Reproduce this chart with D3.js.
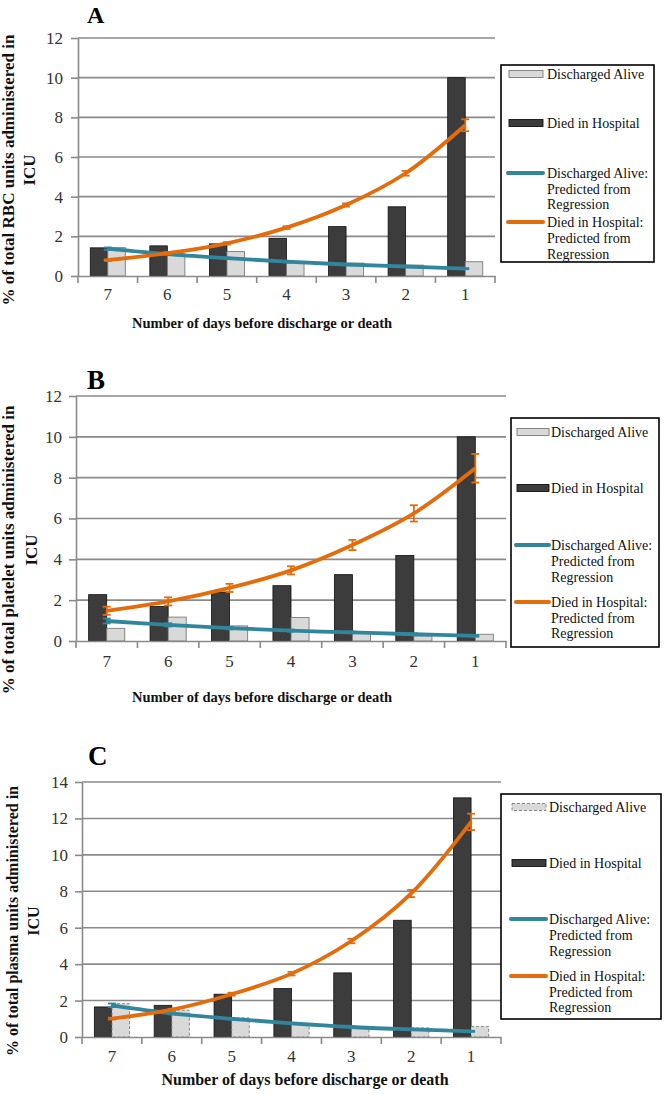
<!DOCTYPE html>
<html>
<head>
<meta charset="utf-8">
<script src="https://cdn.jsdelivr.net/npm/d3@7"></script>
<style>
  html, body { margin: 0; padding: 0; background: #fff; }
  svg { display: block; }
  text { font-family: "Liberation Serif", "Times New Roman", serif; }
</style>
</head>
<body>
<svg id="chart" width="666" height="1094"></svg>
<script>
// ---------- DATA ----------
const days = ["7", "6", "5", "4", "3", "2", "1"];
const panelLetters = ["A", "B", "C"];
const yTitleLines = [
  ["% of total RBC units administered in", "ICU"],
  ["% of total platelet units administered in", "ICU"],
  ["% of total plasma units administered in", "ICU"]
];
const xTitle = "Number of days before discharge or death";
const legendLabels = [
  ["Discharged Alive"],
  ["Died in Hospital"],
  ["Discharged Alive:", "Predicted from", "Regression"],
  ["Died in Hospital:", "Predicted from", "Regression"]
];
const yTicksAB = [0, 2, 4, 6, 8, 10, 12];
const yTicksC = [0, 2, 4, 6, 8, 10, 12, 14];

// Panel A (RBC)
const aDied = [1.42, 1.52, 1.62, 1.9, 2.49, 3.49, 10.0];
const aAlive = [1.43, 1.12, 1.23, 0.65, 0.65, 0.55, 0.72];
const aAlivePred = [1.38, 1.1, 0.9, 0.72, 0.58, 0.48, 0.37];
const aAlivePredErr = [0.06, 0.04, 0.03, 0.03, 0.03, 0.03, 0.03];
const aDiedPred = [0.8, 1.15, 1.65, 2.44, 3.58, 5.18, 7.6];
const aDiedPredErr = [0.04, 0.05, 0.06, 0.07, 0.08, 0.12, 0.3];

// Panel B (platelet)
const bDied = [2.27, 1.69, 2.4, 2.71, 3.25, 4.19, 10.0];
const bAlive = [0.62, 1.17, 0.74, 1.15, 0.42, 0.25, 0.33];
const bAlivePred = [0.98, 0.79, 0.63, 0.51, 0.42, 0.33, 0.25];
const bAlivePredErr = [0.12, 0.08, 0.06, 0.05, 0.04, 0.04, 0.04];
const bDiedPred = [1.48, 1.94, 2.6, 3.46, 4.7, 6.25, 8.46];
const bDiedPredErr = [0.2, 0.2, 0.2, 0.2, 0.25, 0.4, 0.7];

// Panel C (plasma)
const cDied = [1.65, 1.74, 2.35, 2.66, 3.52, 6.41, 13.13];
const cAlive = [1.83, 1.47, 1.05, 0.7, 0.55, 0.5, 0.58];
const cAlivePred = [1.74, 1.3, 1.0, 0.75, 0.55, 0.42, 0.31];
const cAlivePredErr = [0.1, 0.06, 0.04, 0.03, 0.03, 0.03, 0.03];
const cDiedPred = [1.01, 1.5, 2.35, 3.48, 5.27, 7.88, 11.81];
const cDiedPredErr = [0.05, 0.05, 0.08, 0.1, 0.12, 0.2, 0.45];

// ---------- STYLE / LAYOUT ----------
const COL_DIED = "#3c3c3c";
const COL_ALIVE = "#d9d9d9";
const COL_BLUE = "#31859c";
const COL_ORANGE = "#e46c0a";
const COL_GRID = "#8a8a8a";
const SERIF = "'Liberation Serif', 'Times New Roman', serif";

const layouts = [
  { x0: 78, x1: 495, y0: 276, yTop: 38, yMax: 12, yTicks: yTicksAB, tickPad: 8, xLabPad: 12,
    letterX: 87, letterY: 23, letterSize: 24,
    xTitleX: 262, xTitleY: 328, xTitleSize: 14.5,
    yTitleCY: 170, yTitleX1: 14, yTitleX2: 35, yTitleSize: 17,
    legend: { x: 501, y: 65, w: 153, h: 197, swX: 509, swW: 34, txX: 547,
              rows: [[74], [123], [173, 189, 204], [222, 238, 254]] }, dashedAlive: false },
  { x0: 76, x1: 506, y0: 641, yTop: 396, yMax: 12, yTicks: yTicksAB, tickPad: 7, xLabPad: 14,
    letterX: 87, letterY: 389, letterSize: 27,
    xTitleX: 262, xTitleY: 702, xTitleSize: 14.5,
    yTitleCY: 550, yTitleX1: 14, yTitleX2: 37, yTitleSize: 17,
    legend: { x: 511, y: 418, w: 148, h: 229, swX: 517, swW: 32, txX: 551,
              rows: [[432], [488], [545, 561, 577], [602, 618, 633]] }, dashedAlive: false },
  { x0: 82, x1: 501, y0: 1037, yTop: 782, yMax: 14, yTicks: yTicksC, tickPad: 7, xLabPad: 13,
    letterX: 88, letterY: 765, letterSize: 27,
    xTitleX: 305, xTitleY: 1085, xTitleSize: 16,
    yTitleCY: 921, yTitleX1: 18, yTitleX2: 39, yTitleSize: 16,
    legend: { x: 501, y: 794, w: 160, h: 225, swX: 512, swW: 34, txX: 549,
              rows: [[807], [863], [919, 935, 951], [976, 992, 1007]] }, dashedAlive: true }
];

const panelData = [
  { died: aDied, alive: aAlive, alivePred: aAlivePred, alivePredErr: aAlivePredErr, diedPred: aDiedPred, diedPredErr: aDiedPredErr },
  { died: bDied, alive: bAlive, alivePred: bAlivePred, alivePredErr: bAlivePredErr, diedPred: bDiedPred, diedPredErr: bDiedPredErr },
  { died: cDied, alive: cAlive, alivePred: cAlivePred, alivePredErr: cAlivePredErr, diedPred: cDiedPred, diedPredErr: cDiedPredErr }
];

const svg = d3.select("#chart");

function drawPanel(i) {
  const p = layouts[i];
  const d = panelData[i];
  const g = svg.append("g");

  const x = d3.scaleBand().domain(days).range([p.x0, p.x1]).padding(0);
  const xs = d3.scaleBand().domain(["died", "alive"]).range([0, x.bandwidth()])
    .paddingInner(0).paddingOuter(0.7);
  const y = d3.scaleLinear().domain([0, p.yMax]).range([p.y0, p.yTop]);

  // gridlines
  g.append("g").selectAll("line").data(p.yTicks.filter(t => t > 0)).join("line")
    .attr("x1", p.x0).attr("x2", p.x1)
    .attr("y1", t => y(t)).attr("y2", t => y(t))
    .attr("stroke", COL_GRID).attr("stroke-width", 1.6);

  // y axis
  const ya = g.append("g").attr("transform", `translate(${p.x0},0)`)
    .call(d3.axisLeft(y).tickValues(p.yTicks).tickSize(7).tickSizeOuter(0).tickPadding(p.tickPad));
  ya.attr("font-family", SERIF);
  ya.select(".domain").attr("stroke", COL_GRID).attr("stroke-width", 1.6);
  ya.selectAll(".tick line").attr("stroke", COL_GRID).attr("stroke-width", 1.6);
  ya.selectAll(".tick text").style("font-size", "17px").attr("fill", "#333")
    .style("font-family", SERIF);

  // bars
  const rows = days.map((day, k) => ({ day, died: d.died[k], alive: d.alive[k] }));
  g.append("g").selectAll("rect").data(rows).join("rect")
    .attr("x", r => x(r.day) + xs("died"))
    .attr("y", r => y(r.died))
    .attr("width", xs.bandwidth())
    .attr("height", r => p.y0 - y(r.died))
    .attr("fill", COL_DIED).attr("stroke", "#111").attr("stroke-width", 0.8);
  g.append("g").selectAll("rect").data(rows).join("rect")
    .attr("x", r => x(r.day) + xs("alive"))
    .attr("y", r => y(r.alive))
    .attr("width", xs.bandwidth())
    .attr("height", r => p.y0 - y(r.alive))
    .attr("fill", COL_ALIVE).attr("stroke", "#7a7a7a").attr("stroke-width", 0.9)
    .attr("stroke-dasharray", p.dashedAlive ? "3,2" : null);

  // x axis line + ticks at boundaries
  const xa = g.append("g").attr("transform", `translate(0,${p.y0})`)
    .call(d3.axisBottom(x).tickSize(0).tickSizeOuter(0).tickPadding(p.xLabPad));
  xa.attr("font-family", SERIF);
  xa.select(".domain").attr("stroke", COL_GRID).attr("stroke-width", 1.6);
  xa.selectAll(".tick text").style("font-size", "17px").attr("fill", "#333")
    .style("font-family", SERIF);
  const bounds = days.map(dd => x(dd)).concat([p.x1]);
  g.append("g").selectAll("line").data(bounds).join("line")
    .attr("x1", v => v).attr("x2", v => v)
    .attr("y1", p.y0).attr("y2", p.y0 + 7)
    .attr("stroke", COL_GRID).attr("stroke-width", 1.6);

  // lines
  const cx = day => x(day) + x.bandwidth() / 2;
  const line = d3.line().x(r => cx(r.day)).y(r => y(r.v)).curve(d3.curveCatmullRom.alpha(0.5));
  const series = [
    { vals: d.alivePred, err: d.alivePredErr, col: COL_BLUE },
    { vals: d.diedPred, err: d.diedPredErr, col: COL_ORANGE }
  ];
  series.forEach(s => {
    const pts = days.map((day, k) => ({ day, v: s.vals[k], e: s.err[k] }));
    g.append("path").datum(pts).attr("d", line)
      .attr("fill", "none").attr("stroke", s.col).attr("stroke-width", 3.8)
      .attr("stroke-linejoin", "round");
    const eb = g.append("g").attr("stroke", s.col).attr("stroke-width", 1.8);
    eb.selectAll("line.v").data(pts).join("line").attr("class", "v")
      .attr("x1", r => cx(r.day)).attr("x2", r => cx(r.day))
      .attr("y1", r => y(r.v - r.e)).attr("y2", r => y(r.v + r.e));
    eb.selectAll("line.t").data(pts).join("line").attr("class", "t")
      .attr("x1", r => cx(r.day) - 4).attr("x2", r => cx(r.day) + 4)
      .attr("y1", r => y(r.v + r.e)).attr("y2", r => y(r.v + r.e));
    eb.selectAll("line.b").data(pts).join("line").attr("class", "b")
      .attr("x1", r => cx(r.day) - 4).attr("x2", r => cx(r.day) + 4)
      .attr("y1", r => y(r.v - r.e)).attr("y2", r => y(r.v - r.e));
  });

  // panel letter
  g.append("text").attr("x", p.letterX).attr("y", p.letterY)
    .attr("font-size", p.letterSize).attr("font-weight", "bold").attr("fill", "#000")
    .text(panelLetters[i]);

  // x title
  g.append("text").attr("x", p.xTitleX).attr("y", p.xTitleY)
    .attr("text-anchor", "middle").attr("font-size", p.xTitleSize).attr("font-weight", "bold")
    .attr("fill", "#111").text(xTitle);

  // y title (two lines, rotated)
  [p.yTitleX1, p.yTitleX2].forEach((tx, k) => {
    g.append("text")
      .attr("transform", `translate(${tx},${p.yTitleCY}) rotate(-90)`)
      .attr("text-anchor", "middle").attr("font-size", p.yTitleSize).attr("font-weight", "bold")
      .attr("fill", "#111").text(yTitleLines[i][k]);
  });

  // legend
  const L = p.legend;
  const lg = g.append("g");
  lg.append("rect").attr("x", L.x).attr("y", L.y).attr("width", L.w).attr("height", L.h)
    .attr("fill", "#fff").attr("stroke", "#000").attr("stroke-width", 1.6);
  const kinds = [
    { type: "rect", fill: COL_ALIVE, stroke: "#7a7a7a", dash: p.dashedAlive },
    { type: "rect", fill: COL_DIED, stroke: "#111" },
    { type: "line", col: COL_BLUE },
    { type: "line", col: COL_ORANGE }
  ];
  kinds.forEach((k, idx) => {
    const ys = L.rows[idx];
    const sy = ys[0];
    if (k.type === "rect") {
      lg.append("rect").attr("x", L.swX).attr("y", sy - 3.5).attr("width", L.swW).attr("height", 7)
        .attr("fill", k.fill).attr("stroke", k.stroke).attr("stroke-width", 0.9)
        .attr("stroke-dasharray", k.dash ? "3,2" : null);
    } else {
      lg.append("line").attr("x1", L.swX - 1).attr("x2", L.swX + L.swW).attr("y1", sy).attr("y2", sy)
        .attr("stroke", k.col).attr("stroke-width", 4).attr("stroke-linecap", "round");
    }
    legendLabels[idx].forEach((t, j) => {
      lg.append("text").attr("x", L.txX).attr("y", ys[j]).attr("dy", "0.35em")
        .style("font-size", "14px").style("font-family", SERIF).attr("fill", "#111").text(t);
    });
  });
}

[0, 1, 2].forEach(drawPanel);
</script>
</body>
</html>
